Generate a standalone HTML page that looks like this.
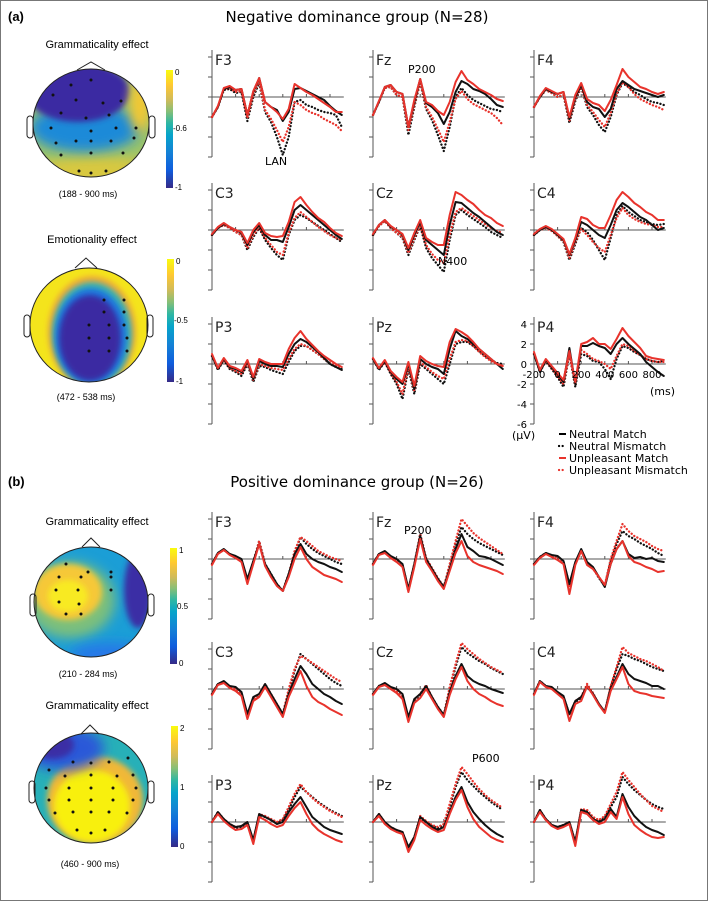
<!DOCTYPE html>
<html><head><meta charset="utf-8"><style>
body{margin:0;background:#fff}
svg{display:block;font-family:"DejaVu Sans","Liberation Sans",sans-serif}
.t{font-family:"Liberation Sans",sans-serif}
</style></head><body>
<svg id="fig" width="709" height="902" viewBox="0 0 709 902">
<defs>
<linearGradient id="parula" x1="0" y1="1" x2="0" y2="0">
<stop offset="0" stop-color="#352a87"/><stop offset="0.15" stop-color="#0f5cdd"/><stop offset="0.3" stop-color="#1481d6"/><stop offset="0.45" stop-color="#06a4ca"/><stop offset="0.55" stop-color="#2eb7a4"/><stop offset="0.65" stop-color="#87bf77"/><stop offset="0.75" stop-color="#d1bb59"/><stop offset="0.87" stop-color="#fec832"/><stop offset="1" stop-color="#f9fb0e"/>
</linearGradient>
<filter id="bl" x="-50%" y="-50%" width="200%" height="200%"><feGaussianBlur stdDeviation="6"/></filter>
<filter id="bl2" x="-50%" y="-50%" width="200%" height="200%"><feGaussianBlur stdDeviation="3"/></filter>
<clipPath id="c1"><ellipse cx="91" cy="123" rx="58" ry="54"/></clipPath>
<clipPath id="c2"><ellipse cx="89" cy="325" rx="59" ry="57"/></clipPath>
<clipPath id="c3"><ellipse cx="91" cy="602" rx="57" ry="55"/></clipPath>
<clipPath id="c4"><ellipse cx="91" cy="788" rx="57" ry="55"/></clipPath>
</defs>
<rect x="0.5" y="0.5" width="707" height="900" fill="#fff" stroke="#777"/>
<text x="8" y="21" font-size="13" font-weight="bold" class="t">(a)</text>
<text x="357" y="22" font-size="15" text-anchor="middle">Negative dominance group (N=28)</text>
<text x="8" y="486" font-size="13" font-weight="bold" class="t">(b)</text>
<text x="357" y="487" font-size="15" text-anchor="middle">Positive dominance group (N=26)</text>

<g>
<text x="97" y="48" font-size="11" text-anchor="middle" class="t">Grammaticality effect</text>
<g clip-path="url(#c1)">
<rect x="30" y="65" width="125" height="120" fill="#9cc46a"/>
<ellipse cx="95" cy="172" rx="60" ry="16" fill="#d8c840" filter="url(#bl)"/>
<ellipse cx="85" cy="128" rx="55" ry="24" fill="#1a8ad8" filter="url(#bl)"/>
<ellipse cx="78" cy="92" rx="52" ry="30" fill="#3b2ca2" filter="url(#bl2)"/>
<ellipse cx="140" cy="105" rx="10" ry="28" fill="#f6c830" filter="url(#bl)"/>
</g>
<ellipse cx="91" cy="123" rx="58" ry="54" fill="none" stroke="#222"/>
<path d="M77 70 L91 62 L105 70" fill="none" stroke="#222"/>
<rect x="27" y="116" width="6" height="22" rx="3" fill="none" stroke="#222"/>
<rect x="149" y="116" width="6" height="22" rx="3" fill="none" stroke="#222"/>
<rect x="166" y="70" width="7" height="118" fill="url(#parula)"/>
<text x="175" y="75" font-size="8" class="t">0</text><text x="173" y="131" font-size="8" class="t">-0.6</text><text x="175" y="190" font-size="8" class="t">-1</text>
<text x="88" y="197" font-size="9" text-anchor="middle" class="t">(188 - 900 ms)</text>
</g>
<g>
<text x="92" y="243" font-size="11" text-anchor="middle" class="t">Emotionality effect</text>
<g clip-path="url(#c2)">
<rect x="25" y="262" width="130" height="125" fill="#f4e41c"/>
<ellipse cx="92" cy="332" rx="44" ry="56" fill="#f0a838" filter="url(#bl2)"/>
<ellipse cx="92" cy="334" rx="40" ry="52" fill="#3ab4b0" filter="url(#bl2)"/>
<ellipse cx="91" cy="336" rx="36" ry="48" fill="#1a78e0" filter="url(#bl2)"/>
<ellipse cx="90" cy="338" rx="31" ry="43" fill="#3b2ca2" filter="url(#bl2)"/>
</g>
<ellipse cx="89" cy="325" rx="59" ry="57" fill="none" stroke="#222"/>
<path d="M75 268 L86 258 L97 268" fill="none" stroke="#222"/>
<rect x="24" y="315" width="6" height="22" rx="3" fill="none" stroke="#222"/>
<rect x="147" y="315" width="6" height="22" rx="3" fill="none" stroke="#222"/>
<rect x="167" y="259" width="7" height="123" fill="url(#parula)"/>
<text x="176" y="264" font-size="8" class="t">0</text><text x="174" y="323" font-size="8" class="t">-0.5</text><text x="176" y="384" font-size="8" class="t">-1</text>
<text x="86" y="400" font-size="9" text-anchor="middle" class="t">(472 - 538 ms)</text>
</g>
<g>
<text x="97" y="525" font-size="11" text-anchor="middle" class="t">Grammaticality effect</text>
<g clip-path="url(#c3)">
<rect x="30" y="545" width="125" height="115" fill="#1b9ed6"/>
<ellipse cx="70" cy="600" rx="45" ry="38" fill="#7ec07a" filter="url(#bl)"/>
<ellipse cx="68" cy="592" rx="34" ry="28" fill="#f6c838" filter="url(#bl2)"/>
<ellipse cx="68" cy="596" rx="20" ry="16" fill="#f8ea20" filter="url(#bl2)"/>
<ellipse cx="138" cy="590" rx="14" ry="38" fill="#3a2ea5" filter="url(#bl2)"/>
<ellipse cx="110" cy="655" rx="40" ry="12" fill="#2878e8" filter="url(#bl)"/>
</g>
<ellipse cx="91" cy="602" rx="57" ry="55" fill="none" stroke="#222"/>
<path d="M82 547 L91 538 L100 547" fill="none" stroke="#222"/>
<rect x="30" y="594" width="6" height="22" rx="3" fill="none" stroke="#222"/>
<rect x="148" y="594" width="6" height="22" rx="3" fill="none" stroke="#222"/>
<rect x="170" y="548" width="7" height="116" fill="url(#parula)"/>
<text x="179" y="553" font-size="8" class="t">1</text><text x="177" y="609" font-size="8" class="t">0.5</text><text x="179" y="666" font-size="8" class="t">0</text>
<text x="88" y="677" font-size="9" text-anchor="middle" class="t">(210 - 284 ms)</text>
</g>
<g>
<text x="97" y="709" font-size="11" text-anchor="middle" class="t">Grammaticality effect</text>
<g clip-path="url(#c4)">
<rect x="30" y="730" width="125" height="115" fill="#27b0b8"/>
<ellipse cx="95" cy="800" rx="48" ry="44" fill="#f0b838" filter="url(#bl2)"/>
<ellipse cx="92" cy="806" rx="38" ry="36" fill="#f8f010" filter="url(#bl2)"/>
<ellipse cx="62" cy="748" rx="42" ry="22" fill="#2a58d8" filter="url(#bl)"/>
<ellipse cx="52" cy="745" rx="22" ry="14" fill="#3a2ea5" filter="url(#bl2)"/>
</g>
<ellipse cx="91" cy="788" rx="57" ry="55" fill="none" stroke="#222"/>
<path d="M81 734 L90 725 L99 734" fill="none" stroke="#222"/>
<rect x="29" y="781" width="6" height="22" rx="3" fill="none" stroke="#222"/>
<rect x="148" y="781" width="6" height="22" rx="3" fill="none" stroke="#222"/>
<rect x="171" y="726" width="7" height="121" fill="url(#parula)"/>
<text x="180" y="731" font-size="8" class="t">2</text><text x="180" y="790" font-size="8" class="t">1</text><text x="180" y="849" font-size="8" class="t">0</text>
<text x="90" y="867" font-size="9" text-anchor="middle" class="t">(460 - 900 ms)</text>
</g>
<g id="dots"></g>
<g id="erps"></g>
<text x="265" y="165" font-size="11">LAN</text>
<text x="408" y="73" font-size="11">P200</text>
<text x="438" y="265" font-size="11">N400</text>
<text x="404" y="534" font-size="11">P200</text>
<text x="472" y="762" font-size="11">P600</text>
<text x="650" y="395" font-size="11">(ms)</text>
<text x="512" y="439" font-size="11">(µV)</text>
<g font-size="11">
<line x1="559" y1="434" x2="566" y2="434" stroke="#000" stroke-width="2"/><text x="569" y="438">Neutral Match</text>
<line x1="559" y1="446" x2="566" y2="446" stroke="#000" stroke-width="2.2" stroke-dasharray="0.1 3.5" stroke-linecap="round"/><text x="569" y="450">Neutral Mismatch</text>
<line x1="559" y1="458" x2="566" y2="458" stroke="#e8332c" stroke-width="2"/><text x="569" y="462">Unpleasant Match</text>
<line x1="559" y1="470" x2="566" y2="470" stroke="#e8332c" stroke-width="2.2" stroke-dasharray="0.1 3.5" stroke-linecap="round"/><text x="569" y="474">Unpleasant Mismatch</text>
</g>
</svg>
<script>
const TIMES=[-200,-150,-100,-50,0,50,100,150,200,250,300,350,400,450,500,550,600,650,700,750,800,850,900];
const YTICKS=[4,2,0,-2,-4,-6];
const XTICKS=[-200,0,200,400,600,800];
const A_F3_NM=[-2,-1,0.8,1,0.7,0.8,-1.8,0.5,1.9,-0.5,-1,-1.3,-2.4,-1.5,0.8,0.9,0.6,0.3,0,-0.3,-0.9,-1.4,-1.8];
const A_F3_NMM=[-2,-1,0.7,0.8,0.4,0.5,-2.4,0,1.4,-1.5,-2.5,-4,-5.8,-4,-0.5,-0.3,-0.8,-1,-1.3,-1.5,-1.6,-1.8,-3];
const A_F3_UM=[-2,-0.9,0.9,1.1,0.7,0.8,-1.8,0.6,1.9,-0.5,-1,-1.5,-2.2,-1.2,1.3,0.9,0.5,0.2,-0.2,-0.6,-1,-1.5,-1.5];
const A_F3_UMM=[-2,-1,0.8,0.9,0.5,0.6,-2.1,0.3,1.6,-1.3,-2.2,-3.3,-4.5,-3,-0.5,-0.8,-1.3,-1.6,-1.8,-2.2,-2.5,-2.8,-3.4];
const A_FZ_NM=[-1.8,-0.5,1,1.2,0.5,0.3,-3,-0.5,1.8,-0.6,-1,-1.6,-2.7,-1.5,0.5,1.6,1.3,0.8,0.6,0.3,-0.2,-0.8,-1];
const A_FZ_NMM=[-1.8,-0.5,0.9,1,0.2,0,-3.8,-1,1.5,-1.2,-2.3,-3.8,-5.4,-3,0,0.9,0.2,-0.3,-0.6,-0.9,-1.2,-1.3,-1.5];
const A_FZ_UM=[-1.8,-0.4,1,1.2,0.5,0.3,-3,-0.3,1.8,-0.5,-0.8,-1.4,-1.8,-0.5,1.5,2.6,1.7,1.3,0.8,0.5,0.2,-0.2,-0.4];
const A_FZ_UMM=[-1.8,-0.5,0.9,1,0.2,0,-3.3,-0.8,1.5,-1,-2,-3.2,-4.5,-2.5,-0.2,0.6,-0.2,-0.7,-1,-1.3,-1.6,-2.1,-2.8];
const A_F4_NM=[-1,0,0.8,0.5,0.3,0.5,-2.2,0,1.2,-0.5,-1,-1.2,-2,-1.2,0.8,1.6,1.2,0.8,0.6,0.4,0.2,0,0.2];
const A_F4_NMM=[-1,0,0.7,0.4,0,0.2,-2.6,-0.4,1,-1,-1.8,-2.8,-3.5,-2,0.2,1.4,1,0.5,0.2,-0.2,-0.5,-0.6,-0.8];
const A_F4_UM=[-1,0.1,0.9,0.6,0.3,0.5,-2,0.2,1.4,-0.2,-0.6,-0.8,-1.4,-0.3,1.2,2.8,2,1.5,1,0.8,0.5,0.3,0.5];
const A_F4_UMM=[-1,0,0.7,0.4,0,0.2,-2.4,-0.2,1,-0.8,-1.5,-2.3,-3,-1.6,0.3,1.5,1,0.3,-0.2,-0.5,-0.8,-1,-1.3];
const A_C3_NM=[-0.5,0.2,0.6,0.3,0,-0.3,-1.5,-0.2,0.5,-0.5,-1,-1,-1.2,0.3,2,2.5,2,1.5,1,0.5,0,-0.5,-0.9];
const A_C3_NMM=[-0.5,0.2,0.5,0.2,-0.2,-0.5,-2,-0.7,0.2,-1,-1.8,-2.5,-3,-0.5,1,1.5,1.2,0.8,0.4,0,-0.4,-0.8,-1.2];
const A_C3_UM=[-0.4,0.3,0.7,0.3,0,-0.2,-1.3,0,0.7,-0.3,-0.6,-0.7,-0.6,0.8,2.8,3.3,2.5,1.8,1.2,0.8,0.2,-0.3,-0.6];
const A_C3_UMM=[-0.5,0.2,0.5,0.2,-0.2,-0.5,-1.8,-0.5,0.3,-0.8,-1.5,-2.2,-2.5,-0.3,1.2,1.8,1.3,0.8,0.3,-0.1,-0.5,-0.8,-1];
const A_CZ_NM=[-0.5,0.5,1,0.3,0,-0.5,-2,-0.5,0.8,-1,-1.5,-2,-2.5,0.5,2.8,2.7,2.2,1.7,1.3,0.8,0.3,-0.2,-0.5];
const A_CZ_NMM=[-0.5,0.4,0.9,0.2,-0.3,-0.8,-2.5,-1,0.4,-1.8,-2.8,-3.5,-4.2,-1,1.5,2,1.5,1.1,0.7,0.3,-0.2,-0.5,-0.8];
const A_CZ_UM=[-0.4,0.5,1,0.4,0,-0.4,-1.8,-0.3,1,-0.8,-1.2,-1.5,-1.5,1.5,3.8,3.5,3,2.6,2,1.5,1.2,0.7,0.4];
const A_CZ_UMM=[-0.5,0.4,0.9,0.2,-0.3,-0.7,-2.3,-0.8,0.5,-1.5,-2.4,-3,-3.3,-0.5,1.8,2.2,1.8,1.4,1,0.6,0.2,-0.1,-0.3];
const A_C4_NM=[-0.5,0,0.3,0,-0.5,-1,-2.5,-1,0.8,0.5,0,-0.5,-0.8,0.5,2,2.7,2.3,1.8,1.3,1,0.5,0,0.2];
const A_C4_NMM=[-0.5,0,0.2,0,-0.6,-1.2,-3,-1.4,0.2,-0.2,-1,-2,-3,-0.8,1.5,2.4,1.8,1.4,1,0.8,0.6,0.5,0.6];
const A_C4_UM=[-0.4,0.1,0.4,0.1,-0.4,-0.9,-2.4,-0.8,1.3,1.1,0.5,0.2,0.2,1.5,3,3.8,3.3,2.7,2.3,1.8,1.5,1,1];
const A_C4_UMM=[-0.5,0,0.2,-0.1,-0.6,-1.1,-2.8,-1.2,0.1,-0.5,-1.2,-1.8,-2.2,-0.5,1.2,2.2,1.5,1.1,0.8,0.6,0.5,0.3,0.3];
const A_P3_NM=[0.8,-0.5,0.5,-0.3,-0.5,-0.8,0.3,-1.5,0.3,0,-0.2,-0.2,-0.3,1,2,2.5,2.2,1.7,1.2,0.6,0,-0.3,-0.6];
const A_P3_NMM=[0.8,-0.6,0.4,-0.5,-0.8,-1.2,0,-1.8,-0.2,-0.3,-0.6,-0.8,-1,0.2,1.3,1.8,1.8,1.4,1,0.5,0,-0.3,-0.5];
const A_P3_UM=[1,-0.4,0.6,-0.2,-0.4,-0.7,0.4,-1.3,0.5,0.2,0,0,0,1.5,2.6,3.3,2.5,1.9,1.3,0.8,0.4,0,-0.3];
const A_P3_UMM=[0.8,-0.5,0.4,-0.4,-0.7,-1,0.1,-1.6,0,-0.2,-0.4,-0.5,-0.6,0.5,1.5,2,1.8,1.4,1,0.5,0.1,-0.2,-0.4];
const A_PZ_NM=[0.5,-0.5,0.3,-0.8,-1.5,-2,0,-2.5,0.5,0,-0.3,-0.5,-1,1.5,3.3,2.8,2.5,2,1.5,1,0.5,0,-0.5];
const A_PZ_NMM=[0.5,-0.6,0.2,-1,-2,-3.5,-0.5,-3,0,-0.5,-1,-1.5,-2,0,2,2.2,2.2,1.8,1.3,0.8,0.4,0.1,0];
const A_PZ_UM=[0.6,-0.4,0.4,-0.7,-1.3,-1.8,0.2,-2.2,0.8,0.3,0,-0.2,-0.3,2.2,3.5,3.2,2.8,2.2,1.5,1,0.5,0,-0.2];
const A_PZ_UMM=[0.5,-0.5,0.2,-0.9,-1.8,-3,-0.3,-2.7,0.2,-0.3,-0.8,-1.2,-1.5,0.5,2.2,2.4,2.3,1.8,1.2,0.7,0.3,0,-0.2];
const A_P4_NM=[1,-0.8,0.4,-0.3,-1,-1.8,1.6,-2,1.8,1.8,2.1,1.8,1.6,1,2,2.6,2,1.5,1,0.2,-0.3,-0.8,-1.2];
const A_P4_NMM=[1,-0.8,0.3,-0.5,-1.3,-2.3,1,-2.3,1,0.8,0.3,0.2,-0.5,-1.5,0.5,1.8,1.6,1.2,0.9,0.5,0.3,0.2,0.3];
const A_P4_UM=[1.2,-0.6,0.5,-0.2,-0.9,-1.6,1.3,-1.8,2,2.2,2.6,2,2,1.5,2.5,3.6,2.8,2.2,1.6,0.8,0.6,0.5,0.4];
const A_P4_UMM=[1,-0.7,0.3,-0.4,-1.2,-2,1,-2.1,1.4,1,0.5,0.3,0,-0.5,0.8,2,1.8,1.3,0.9,0.5,0.3,0.2,0.2];
const B_F3_NM=[-0.5,0.6,1,0.5,0.3,0,-2,-0.2,1.5,-0.5,-1.5,-2.5,-3.2,-1.5,0.5,1.5,0.5,0,-0.3,-0.5,-0.8,-1,-1.3];
const B_F3_NMM=[-0.5,0.6,0.9,0.5,0.2,-0.1,-2.2,-0.3,1.8,-0.5,-1.5,-2.5,-3.2,-1.5,0.5,2.2,1.5,1,0.6,0.3,0,-0.3,-0.5];
const B_F3_UM=[-0.6,0.5,0.9,0.4,0.1,-0.3,-2.5,-0.5,1.5,-0.7,-1.8,-2.7,-3.2,-1.8,0,1.2,0,-0.8,-1.2,-1.6,-1.8,-2,-2.3];
const B_F3_UMM=[-0.5,0.6,0.9,0.5,0.2,-0.1,-2.2,-0.3,1.8,-0.5,-1.6,-2.6,-3.2,-1.5,0.8,2.2,1.8,1.3,0.8,0.5,0.2,0,-0.2];
const B_FZ_NM=[-0.5,0.5,0.8,0.3,0,-0.5,-3,-0.5,2.3,0,-1,-2,-2.8,-1,1,2.5,1.2,0.8,0.3,0.2,0,-0.3,-0.6];
const B_FZ_NMM=[-0.5,0.5,0.7,0.2,-0.1,-0.6,-3.2,-0.6,2.5,0,-1,-2,-2.8,-0.8,1.5,3.2,2.5,2,1.6,1.3,1,0.7,0.4];
const B_FZ_UM=[-0.6,0.4,0.6,0.1,-0.3,-0.8,-3.3,-0.8,2,-0.3,-1.2,-2.2,-3,-1.2,0.6,1.8,0.3,-0.3,-0.6,-0.8,-1,-1.2,-1.5];
const B_FZ_UMM=[-0.5,0.5,0.7,0.2,-0.1,-0.6,-3,-0.5,2.5,0.1,-0.9,-1.9,-2.8,-0.5,1.8,4,3.3,2.6,2.1,1.7,1.3,0.9,0.5];
const B_F4_NM=[-0.5,0.2,0.6,0.4,0.3,-0.2,-2.5,-0.3,1,-0.3,-0.8,-1.8,-2.8,-0.5,1,1.8,0.5,0.1,0.2,0,0.1,-0.2,-0.3];
const B_F4_NMM=[-0.5,0.2,0.6,0.3,0.2,-0.3,-2.6,-0.4,0.9,-0.4,-0.9,-1.9,-2.7,-0.2,1.5,2.8,2.3,2,1.6,1.3,1,0.6,0.3];
const B_F4_UM=[-0.6,0.1,0.5,0.2,-0.1,-0.5,-3.5,-0.6,0.8,-0.6,-1,-1.8,-2.6,-0.5,1,1.8,0.3,-0.3,-0.5,-0.8,-1,-1.3,-1.2];
const B_F4_UMM=[-0.5,0.2,0.6,0.3,0.2,-0.3,-2.8,-0.4,0.9,-0.4,-0.9,-1.8,-2.6,0,1.8,3.5,2.8,2.3,2,1.7,1.3,1,0.8];
const B_C3_NM=[-0.5,0.5,0.8,0.3,0.2,-0.3,-2.5,-0.8,-0.5,0.5,-0.5,-1.5,-2.5,-0.5,1,2.3,1.5,0.5,0,-0.5,-0.8,-1.2,-1.5];
const B_C3_NMM=[-0.5,0.5,0.7,0.2,0,-0.5,-2.7,-1,-0.6,0.4,-0.6,-1.6,-2.6,-0.2,1.8,3.5,3,2.5,2,1.5,1,0.6,0.3];
const B_C3_UM=[-0.6,0.4,0.6,0.1,-0.2,-0.7,-3,-1.2,-0.8,0.2,-0.8,-1.8,-2.8,-0.8,0.5,1.8,0.3,-0.8,-1.3,-1.6,-2,-2.3,-2.6];
const B_C3_UMM=[-0.5,0.5,0.7,0.2,0,-0.5,-2.7,-1,-0.5,0.5,-0.5,-1.5,-2.5,0,2,3.3,3,2.6,2.2,1.8,1.4,1,0.7];
const B_CZ_NM=[-0.5,0.3,0.6,0.2,0,-0.5,-2.8,-1,-0.5,0.3,-0.8,-1.8,-2.6,-0.3,1.3,2.5,1.3,0.8,0.5,0.3,0,-0.2,-0.4];
const B_CZ_NMM=[-0.5,0.3,0.5,0.1,-0.2,-0.7,-3,-1.2,-0.6,0.2,-0.9,-1.8,-2.6,0,2.2,4.2,3.6,3.2,2.8,2.5,2.1,1.8,1.5];
const B_CZ_UM=[-0.6,0.2,0.4,0,-0.4,-1,-3.3,-1.4,-0.9,0,-1,-2,-2.8,-0.6,1,2.2,0.8,0,-0.5,-0.8,-1.2,-1.5,-1.7];
const B_CZ_UMM=[-0.5,0.3,0.5,0.1,-0.2,-0.7,-3,-1.1,-0.5,0.4,-0.8,-1.8,-2.6,0.2,2.5,4.6,4,3.5,3,2.6,2.2,1.9,1.6];
const B_C4_NM=[-0.5,0.8,0.3,0.2,-0.3,-0.7,-2.5,-1.2,-0.8,0.3,-0.5,-1.5,-2.3,0,1.2,2.5,1.5,1,0.8,0.6,0.3,0.3,0];
const B_C4_NMM=[-0.5,0.8,0.3,0.1,-0.4,-0.8,-2.6,-1.3,-0.9,0.2,-0.5,-1.5,-2.3,0.2,2,3.5,3.3,3,2.8,2.5,2.2,2,1.8];
const B_C4_UM=[-0.6,0.7,0.2,0,-0.5,-1,-3.2,-1.5,-1.2,0.3,-0.6,-1.6,-2.4,-0.2,1,2.2,0.5,-0.2,-0.4,-0.5,-0.7,-0.8,-0.9];
const B_C4_UMM=[-0.5,0.8,0.3,0.1,-0.4,-0.8,-2.6,-1.2,-0.8,0.5,-0.4,-1.5,-2.3,0.3,2.2,4.2,3.6,3.3,3,2.8,2.5,2.2,1.8];
const B_P3_NM=[0,1,0.3,-0.2,-0.5,-0.4,0,-1.8,0.8,0.5,0.2,-0.2,0,1,1.8,2.5,1.5,0.5,0,-0.5,-0.8,-1,-1.2];
const B_P3_NMM=[0,1,0.2,-0.3,-0.6,-0.5,-0.1,-2,0.7,0.5,0.2,-0.1,0.2,1.2,2.5,3.5,3,2.5,2,1.6,1.2,0.9,0.6];
const B_P3_UM=[0,0.8,0.1,-0.4,-0.8,-0.7,-0.3,-2.2,0.5,0.2,-0.2,-0.5,-0.3,0.6,1.4,2,0.8,-0.2,-0.8,-1.2,-1.5,-1.8,-2];
const B_P3_UMM=[0,1,0.3,-0.2,-0.5,-0.4,0,-1.9,0.8,0.6,0.3,0,0.3,1.5,2.8,3.8,3,2.4,1.9,1.5,1.1,0.8,0.5];
const B_PZ_NM=[0,0.8,0,-0.5,-0.8,-1,-2.5,-1.5,0.5,0,-0.5,-0.8,-0.5,1,2.5,3.5,2,1,0.3,-0.3,-0.8,-1.2,-1.5];
const B_PZ_NMM=[0,0.8,-0.1,-0.6,-0.9,-1.1,-2.7,-1.6,0.4,0,-0.4,-0.6,-0.3,1.5,3.5,5,4.2,3.6,3,2.5,2,1.6,1.2];
const B_PZ_UM=[0,0.6,-0.2,-0.7,-1,-1.2,-3,-1.8,0.2,-0.3,-0.7,-1,-0.8,0.8,2.2,3.2,1.5,0.3,-0.5,-1,-1.5,-1.8,-2];
const B_PZ_UMM=[0,0.8,0,-0.5,-0.8,-1,-2.6,-1.5,0.6,0.1,-0.3,-0.5,-0.2,1.8,3.8,5.5,4.8,4,3.3,2.7,2.2,1.8,1.4];
const B_P4_NM=[0,1.2,0.3,-0.3,-0.5,-0.3,0,-2,1.2,1,0.3,0,0.3,1.3,0.5,2.8,1.5,0.6,0,-0.5,-0.8,-1,-1.3];
const B_P4_NMM=[0,1.2,0.2,-0.3,-0.6,-0.4,-0.1,-2.1,1.2,1.1,0.4,0.1,0.4,1.5,2.5,4.5,3.8,3.2,2.7,2.2,1.8,1.5,1.3];
const B_P4_UM=[0,1,0.2,-0.4,-0.7,-0.5,-0.2,-2.4,1,0.8,0.2,-0.2,0,1,0.3,2.5,0.8,-0.3,-0.8,-1.2,-1.5,-1.6,-1.5];
const B_P4_UMM=[0,1.2,0.3,-0.3,-0.5,-0.3,0,-2,1.3,1.2,0.5,0.2,0.6,1.8,3,5,4.2,3.5,2.8,2.2,1.6,1.3,1];

const NS='http://www.w3.org/2000/svg';
const COLX=[212,373,534], ROWA=[97,230,364], ROWB=[559,689,822];
const PANELS=[
 ['a','F3',0,ROWA[0],[A_F3_NM,A_F3_NMM,A_F3_UM,A_F3_UMM]],['a','Fz',1,ROWA[0],[A_FZ_NM,A_FZ_NMM,A_FZ_UM,A_FZ_UMM]],['a','F4',2,ROWA[0],[A_F4_NM,A_F4_NMM,A_F4_UM,A_F4_UMM]],
 ['a','C3',0,ROWA[1],[A_C3_NM,A_C3_NMM,A_C3_UM,A_C3_UMM]],['a','Cz',1,ROWA[1],[A_CZ_NM,A_CZ_NMM,A_CZ_UM,A_CZ_UMM]],['a','C4',2,ROWA[1],[A_C4_NM,A_C4_NMM,A_C4_UM,A_C4_UMM]],
 ['a','P3',0,ROWA[2],[A_P3_NM,A_P3_NMM,A_P3_UM,A_P3_UMM]],['a','Pz',1,ROWA[2],[A_PZ_NM,A_PZ_NMM,A_PZ_UM,A_PZ_UMM]],['a','P4',2,ROWA[2],[A_P4_NM,A_P4_NMM,A_P4_UM,A_P4_UMM]],
 ['b','F3',0,ROWB[0],[B_F3_NM,B_F3_NMM,B_F3_UM,B_F3_UMM]],['b','Fz',1,ROWB[0],[B_FZ_NM,B_FZ_NMM,B_FZ_UM,B_FZ_UMM]],['b','F4',2,ROWB[0],[B_F4_NM,B_F4_NMM,B_F4_UM,B_F4_UMM]],
 ['b','C3',0,ROWB[1],[B_C3_NM,B_C3_NMM,B_C3_UM,B_C3_UMM]],['b','Cz',1,ROWB[1],[B_CZ_NM,B_CZ_NMM,B_CZ_UM,B_CZ_UMM]],['b','C4',2,ROWB[1],[B_C4_NM,B_C4_NMM,B_C4_UM,B_C4_UMM]],
 ['b','P3',0,ROWB[2],[B_P3_NM,B_P3_NMM,B_P3_UM,B_P3_UMM]],['b','Pz',1,ROWB[2],[B_PZ_NM,B_PZ_NMM,B_PZ_UM,B_PZ_UMM]],['b','P4',2,ROWB[2],[B_P4_NM,B_P4_NMM,B_P4_UM,B_P4_UMM]]
];
const SERIES=['neutral-match','neutral-mismatch','unpleasant-match','unpleasant-mismatch'];
const XS=0.118, YS=10;
function xPix(x0,t){return x0+(t+200)*XS;}
function yPix(z,v){return z-v*YS;}
function mk(tag,attrs,parent){const e=document.createElementNS(NS,tag);for(const k in attrs)e.setAttribute(k,attrs[k]);parent.appendChild(e);return e;}
const root=document.getElementById('erps');
PANELS.forEach(p=>{
 const [grp,name,col,z,data]=p;const x0=COLX[col];
 const g=mk('g',{},root);
 
 
 const ax=mk('line',{x1:x0,y1:z-47,x2:x0,y2:yPix(z,-6),stroke:'#555','stroke-width':1},g);
 
 
 YTICKS.forEach(v=>{mk('line',{x1:x0-4,y1:yPix(z,v),x2:x0,y2:yPix(z,v),stroke:'#555'},g);});
 const zl=mk('line',{x1:x0,y1:z,x2:xPix(x0,900)+2,y2:z,stroke:'#555','stroke-width':1},g);
 
 
 XTICKS.forEach(t=>{if(t>-200)mk('line',{x1:xPix(x0,t),y1:z-3,x2:xPix(x0,t),y2:z,stroke:'#555'},g);});
 const lb=mk('text',{x:x0+3,y:z-32,'font-size':14,fill:'#222'},g);lb.textContent=name;
 
 
 [1,3,0,2].forEach(si=>{
  const vals=data[si];
  let d='';vals.forEach((v,i)=>{d+=(i?'L':'M')+xPix(x0,TIMES[i]).toFixed(1)+' '+yPix(z,v).toFixed(1);});
  const dotted=si%2===1;
  const pa=mk('path',{d:d,fill:'none',stroke:si<2?'#111':'#e8332c','stroke-width':dotted?2.3:2,'stroke-linejoin':'round','stroke-linecap':'round'},g);
  if(dotted)pa.setAttribute('stroke-dasharray','0.1 3.3');
  
  
 });
 if(grp==='a'&&name==='P4'){
  YTICKS.forEach(v=>{const t=mk('text',{x:x0-7,y:yPix(z,v)+4,'font-size':10,'text-anchor':'end'},g);t.textContent=v;
   
   });
  XTICKS.forEach(tv=>{const t=mk('text',{x:xPix(x0,tv),y:z+14,'font-size':10,'text-anchor':'middle'},g);t.textContent=tv;
   
   });
 }
});
const DOTS=[[91,123,[[-20,-38],[0,-43],[-38,-28],[-15,-23],[12,-20],[30,-22],[-30,-10],[-5,-5],[18,-8],[-40,5],[0,8],[25,5],[45,5],[-35,20],[-15,18],[0,18],[20,18],[43,15],[-30,32],[0,30],[32,30],[-12,48],[0,50],[15,48]]],
[89,325,[[15,-25],[35,-25],[15,-13],[35,-13],[0,0],[20,0],[35,0],[0,13],[20,13],[38,13],[0,26],[20,26],[38,26]]],
[91,602,[[-25,-38],[-3,-30],[20,-30],[-32,-25],[-10,-25],[20,-25],[-35,-12],[-13,-12],[20,-12],[-32,0],[-12,2],[-25,12],[-10,12]]],
[91,788,[[-18,-26],[0,-25],[18,-26],[37,-30],[-42,-18],[-26,-12],[0,-13],[26,-12],[42,-13],[-45,0],[-22,0],[0,0],[22,0],[45,0],[-42,12],[-22,12],[0,12],[22,12],[42,12],[-36,25],[-18,24],[0,24],[18,24],[36,25],[-14,42],[0,45],[14,42]]]];
const dg=document.getElementById('dots');
DOTS.forEach(([cx,cy,pts])=>{pts.forEach(([dx,dy])=>{const c=mk('circle',{cx:cx+dx,cy:cy+dy,r:1.5,fill:'#111'},dg);
 
 });});
</script>
</body></html>
